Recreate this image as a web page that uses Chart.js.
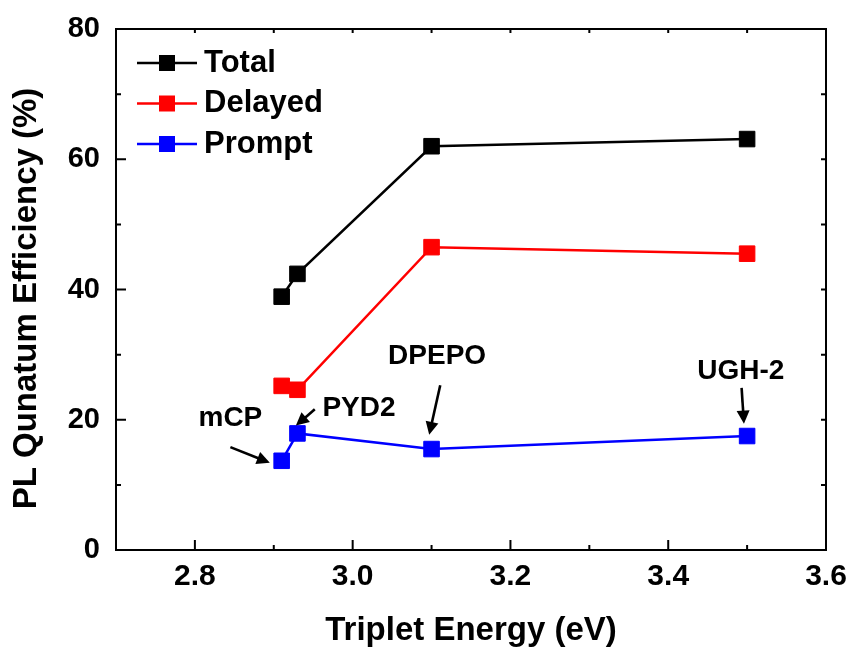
<!DOCTYPE html>
<html>
<head>
<meta charset="utf-8">
<script src="https://cdn.jsdelivr.net/npm/chart.js@4.4.0/dist/chart.umd.min.js"></script>
<style>
  body { margin: 0; background: #fff; }
  #plqy { display: block; }
</style>
</head>
<body>
<canvas id="plqy" width="853" height="653"></canvas>
<script>
// DATA
const tripletEnergy = [2.91, 2.93, 3.1, 3.5];
const totalPLQY = [38.9, 42.4, 62.0, 63.1];
const delayedPLQY = [25.2, 24.6, 46.5, 45.5];
const promptPLQY = [13.7, 17.9, 15.5, 17.5];
const hostNames = ["mCP", "PYD2", "DPEPO", "UGH-2"];

const xMajorTicks = [2.8, 3.0, 3.2, 3.4, 3.6];
const xMinorTicks = [2.9, 3.1, 3.3, 3.5];
const yMajorTicks = [0, 20, 40, 60, 80];
const yMinorTicks = [10, 30, 50, 70];

const yTitle = "PL Qunatum Efficiency (%)";

// label + arrow for each host, in data units
const hostNotes = [
  { label: [2.845, 20.3], from: [2.845, 15.8], to: [2.895, 13.4] },
  { label: [3.008, 21.8], from: [2.952, 21.6], to: [2.928, 19.1] },
  { label: [3.107, 29.8], from: [3.111, 25.3], to: [3.097, 17.7] },
  { label: [3.492, 27.4], from: [3.493, 24.9], to: [3.496, 19.4] },
];

const FONT = "'Liberation Sans', Arial, sans-serif";

function toPoints(ys) {
  return tripletEnergy.map((x, i) => ({ x: x, y: ys[i] }));
}

function series(label, ys, color) {
  return {
    label: label,
    data: toPoints(ys),
    showLine: true,
    borderColor: color,
    backgroundColor: color,
    borderWidth: 2.5,
    pointStyle: "rect",
    pointRadius: 11,
    pointHoverRadius: 11,
    pointBorderWidth: 1,
    pointBorderColor: color,
    pointBackgroundColor: color,
  };
}

// FRAME + INWARD TICKS
const frameAndTicks = {
  id: "frameAndTicks",
  afterDraw(chart) {
    const { ctx, chartArea: a, scales: { x, y } } = chart;
    ctx.save();
    ctx.strokeStyle = "#000";
    ctx.lineWidth = 2;
    ctx.strokeRect(a.left, a.top, a.right - a.left, a.bottom - a.top);
    ctx.beginPath();
    for (let v of xMajorTicks) {
      const px = x.getPixelForValue(v);
      ctx.moveTo(px, a.bottom); ctx.lineTo(px, a.bottom - 10);
      ctx.moveTo(px, a.top); ctx.lineTo(px, a.top + 4);
    }
    for (let v of xMinorTicks) {
      const px = x.getPixelForValue(v);
      ctx.moveTo(px, a.bottom); ctx.lineTo(px, a.bottom - 5);
      ctx.moveTo(px, a.top); ctx.lineTo(px, a.top + 4);
    }
    for (let v of yMajorTicks) {
      const py = y.getPixelForValue(v);
      ctx.moveTo(a.left, py); ctx.lineTo(a.left + 10, py);
      ctx.moveTo(a.right, py); ctx.lineTo(a.right - 5, py);
    }
    for (let v of yMinorTicks) {
      const py = y.getPixelForValue(v);
      ctx.moveTo(a.left, py); ctx.lineTo(a.left + 5, py);
      ctx.moveTo(a.right, py); ctx.lineTo(a.right - 5, py);
    }
    ctx.stroke();

    // y axis title, rotated
    ctx.save();
    ctx.translate(27, (a.top + a.bottom) / 2 + 9);
    ctx.rotate(-Math.PI / 2);
    ctx.font = "bold 33px " + FONT;
    ctx.fillStyle = "#000";
    ctx.textAlign = "center";
    ctx.textBaseline = "middle";
    ctx.fillText(yTitle, 0, 0);
    ctx.restore();
    ctx.restore();
  },
};

// LEGEND (line - marker - line) inside the plot
const sampleLegend = {
  id: "sampleLegend",
  afterDraw(chart) {
    const { ctx, chartArea: a } = chart;
    ctx.save();
    ctx.font = "bold 31px " + FONT;
    ctx.textBaseline = "middle";
    ctx.textAlign = "left";
    chart.data.datasets.forEach((ds, i) => {
      const rowY = a.top + 34 + i * 40.5;
      const x0 = a.left + 21;
      ctx.strokeStyle = ds.borderColor;
      ctx.lineWidth = 2.5;
      ctx.beginPath();
      ctx.moveTo(x0, rowY);
      ctx.lineTo(x0 + 60, rowY);
      ctx.stroke();
      ctx.fillStyle = ds.borderColor;
      ctx.fillRect(x0 + 22, rowY - 8, 16, 16);
      ctx.fillStyle = "#000";
      ctx.fillText(ds.label, x0 + 67, rowY);
    });
    ctx.restore();
  },
};

// HOST ANNOTATIONS
const hostLabels = {
  id: "hostLabels",
  afterDraw(chart) {
    const { ctx, scales: { x, y } } = chart;
    ctx.save();
    ctx.font = "bold 28px " + FONT;
    ctx.textAlign = "center";
    ctx.textBaseline = "middle";
    ctx.fillStyle = "#000";
    ctx.strokeStyle = "#000";
    ctx.lineWidth = 2.6;
    hostNotes.forEach((n, i) => {
      ctx.fillText(hostNames[i], x.getPixelForValue(n.label[0]), y.getPixelForValue(n.label[1]));
      const x1 = x.getPixelForValue(n.from[0]), y1 = y.getPixelForValue(n.from[1]);
      const x2 = x.getPixelForValue(n.to[0]), y2 = y.getPixelForValue(n.to[1]);
      const ang = Math.atan2(y2 - y1, x2 - x1);
      const head = 13, half = 6.5;
      const bx = x2 - head * Math.cos(ang), by = y2 - head * Math.sin(ang);
      ctx.beginPath();
      ctx.moveTo(x1, y1);
      ctx.lineTo(bx + 2 * Math.cos(ang), by + 2 * Math.sin(ang));
      ctx.stroke();
      ctx.beginPath();
      ctx.moveTo(x2, y2);
      ctx.lineTo(bx + half * Math.sin(ang), by - half * Math.cos(ang));
      ctx.lineTo(bx - half * Math.sin(ang), by + half * Math.cos(ang));
      ctx.closePath();
      ctx.fill();
    });
    ctx.restore();
  },
};

new Chart(document.getElementById("plqy"), {
  type: "scatter",
  data: {
    datasets: [
      series("Total", totalPLQY, "#000000"),
      series("Delayed", delayedPLQY, "#ff0000"),
      series("Prompt", promptPLQY, "#0000ff"),
    ],
  },
  options: {
    responsive: false,
    animation: false,
    events: [],
    layout: { padding: { top: 29, right: 27, left: 0, bottom: 0 } },
    plugins: {
      legend: { display: false },
      tooltip: { enabled: false },
    },
    scales: {
      x: {
        type: "linear",
        min: 2.7,
        max: 3.6,
        grid: { display: false, drawTicks: false },
        border: { display: false },
        afterBuildTicks: (scale) => {
          scale.ticks = xMajorTicks.map((v) => ({ value: v }));
        },
        afterFit: (scale) => {
          scale.height = 103;
          scale.paddingLeft = 0;
          scale.paddingRight = 0;
        },
        ticks: {
          color: "#000",
          padding: 9,
          maxRotation: 0,
          font: { family: FONT, size: 30, weight: "bold" },
          callback: (v) => Number(v).toFixed(1),
        },
        title: {
          display: true,
          text: "Triplet Energy (eV)",
          color: "#000",
          padding: { top: 0, bottom: 2 },
          font: { family: FONT, size: 33, weight: "bold" },
        },
      },
      y: {
        type: "linear",
        min: 0,
        max: 80,
        grid: { display: false, drawTicks: false },
        border: { display: false },
        afterBuildTicks: (scale) => {
          scale.ticks = yMajorTicks.map((v) => ({ value: v }));
        },
        afterFit: (scale) => {
          scale.width = 116;
          scale.paddingTop = 0;
          scale.paddingBottom = 0;
        },
        ticks: {
          color: "#000",
          padding: 16,
          font: { family: FONT, size: 29, weight: "bold" },
        },
      },
    },
  },
  plugins: [frameAndTicks, sampleLegend, hostLabels],
});
</script>
</body>
</html>
